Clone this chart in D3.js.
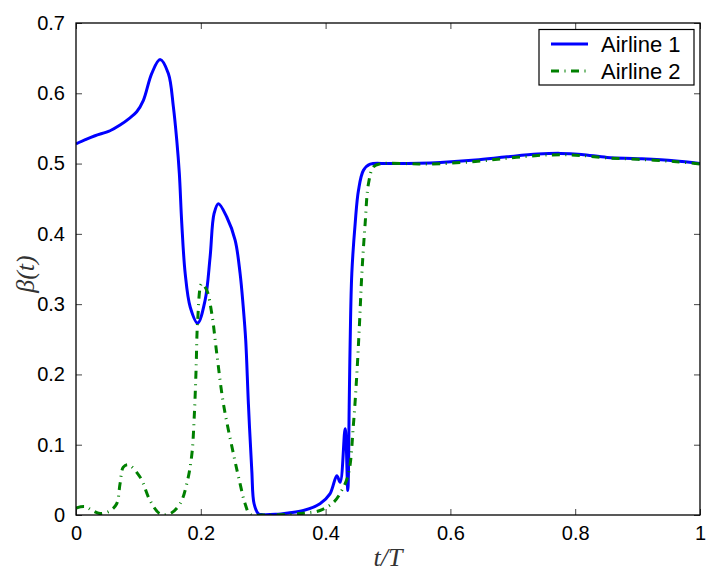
<!DOCTYPE html>
<html>
<head>
<meta charset="utf-8">
<script src="https://cdn.jsdelivr.net/npm/d3@7"></script>
<style>
  html, body { margin: 0; padding: 0; background: #fff; }
  svg { display: block; }
</style>
</head>
<body>
<svg id="chart" width="707" height="575"></svg>
<script>
// Normalised time t/T and beta(t) for each airline
const airline1T = [0, 0.015, 0.0305, 0.0545, 0.0706, 0.085, 0.0973, 0.108, 0.1213, 0.1347,
  0.148, 0.156, 0.1615, 0.1656, 0.1695, 0.175, 0.183, 0.195, 0.2069, 0.2149,
  0.2213, 0.2282, 0.2416, 0.255, 0.263, 0.268, 0.272, 0.2763, 0.2817, 0.2854,
  0.2924, 0.30, 0.32, 0.34, 0.3645, 0.391, 0.407, 0.418, 0.4233, 0.4313,
  0.4356, 0.4378, 0.4394, 0.442, 0.4474, 0.4527, 0.4608, 0.4715, 0.50, 0.55,
  0.5837, 0.64, 0.6907, 0.74, 0.776, 0.81, 0.851, 0.90, 0.958, 1.0];
const airline1Beta = [0.528, 0.534, 0.5396, 0.5467, 0.5548, 0.564, 0.5737, 0.590, 0.628, 0.648,
  0.628, 0.581, 0.533, 0.486, 0.415, 0.3435, 0.296, 0.273, 0.3055, 0.367,
  0.429, 0.443, 0.424, 0.391, 0.3435, 0.296, 0.2485, 0.158, 0.0634, 0.016,
  0.0017, 0.0005, 0.001, 0.003, 0.0064, 0.016, 0.030, 0.056, 0.0467, 0.1228,
  0.035, 0.1535, 0.2485, 0.3435, 0.415, 0.462, 0.4907, 0.4992, 0.500, 0.5005,
  0.5016, 0.505, 0.5096, 0.5135, 0.5145, 0.513, 0.5088, 0.507, 0.504, 0.500];

const airline2T = [0, 0.0144, 0.025, 0.0385, 0.0545, 0.0652, 0.0705, 0.0758, 0.0839, 0.1026,
  0.1187, 0.1347, 0.151, 0.1668, 0.1775, 0.1855, 0.1895, 0.1924, 0.195, 0.2015,
  0.2095, 0.2176, 0.2256, 0.2363, 0.2523, 0.263, 0.271, 0.279, 0.30, 0.33,
  0.3645, 0.391, 0.4127, 0.426, 0.4367, 0.4447, 0.4501, 0.4543, 0.4581, 0.4634,
  0.4688, 0.4768, 0.4875, 0.55, 0.5837, 0.64, 0.6907, 0.74, 0.776, 0.81,
  0.851, 0.90, 0.958, 1.0];
const airline2Beta = [0.010, 0.012, 0.007, 0.002, 0.006, 0.016, 0.044, 0.068, 0.0715, 0.054,
  0.0206, 0.0017, 0.002, 0.016, 0.0444, 0.085, 0.14, 0.206, 0.277, 0.329,
  0.320, 0.2866, 0.2296, 0.158, 0.087, 0.0444, 0.016, 0.001, 0.000, 0.0005,
  0.0026, 0.0064, 0.018, 0.035, 0.0587, 0.13, 0.201, 0.272, 0.3435, 0.415,
  0.472, 0.4955, 0.4995, 0.4995, 0.4998, 0.503, 0.5075, 0.5115, 0.5125, 0.5115,
  0.508, 0.506, 0.503, 0.4995];

const seriesNames = ["Airline 1", "Airline 2"];
const xTicks = [0, 0.2, 0.4, 0.6, 0.8, 1];
const yTicks = [0, 0.1, 0.2, 0.3, 0.4, 0.5, 0.6, 0.7];

const plot = { left: 76, right: 700, top: 23, bottom: 515 };

const svg = d3.select("#chart");
const x = d3.scaleLinear().domain([0, 1]).range([plot.left, plot.right]);
const y = d3.scaleLinear().domain([0, 0.7]).range([plot.bottom, plot.top]);

const tickFont = "'Liberation Sans', Arial, Helvetica, sans-serif";
const mathFont = "'Liberation Serif', 'Times New Roman', serif";

svg.append("defs").append("clipPath").attr("id", "plotClip")
  .append("rect")
  .attr("x", plot.left).attr("y", plot.top - 2)
  .attr("width", plot.right - plot.left).attr("height", plot.bottom - plot.top + 2);

// Axes: ticks point inward, mirrored on top and right
const tickLen = 6;
function styleAxis(g) {
  g.select(".domain").remove();
  g.selectAll(".tick line").attr("stroke", "#444").attr("stroke-width", 1);
  g.selectAll(".tick text").attr("font-family", tickFont).attr("font-size", 20).attr("fill", "#000");
}
svg.append("g").attr("transform", `translate(0,${plot.bottom})`)
  .call(d3.axisBottom(x).tickValues(xTicks).tickFormat(d3.format("~g")).tickSizeInner(-tickLen).tickPadding(11))
  .call(styleAxis);
svg.append("g").attr("transform", `translate(0,${plot.top})`)
  .call(d3.axisTop(x).tickValues(xTicks).tickFormat("").tickSizeInner(-tickLen))
  .call(styleAxis);
svg.append("g").attr("transform", `translate(${plot.left},0)`)
  .call(d3.axisLeft(y).tickValues(yTicks).tickFormat(d3.format("~g")).tickSizeInner(-tickLen).tickPadding(11))
  .call(styleAxis);
svg.append("g").attr("transform", `translate(${plot.right},0)`)
  .call(d3.axisRight(y).tickValues(yTicks).tickFormat("").tickSizeInner(-tickLen))
  .call(styleAxis);

// Curves
const line = d3.line()
  .x(d => x(d[0]))
  .y(d => y(d[1]))
  .curve(d3.curveCatmullRom.alpha(0.5));

const series = [
  { name: seriesNames[0], pts: d3.zip(airline1T, airline1Beta), color: "#0000ff", dash: null },
  { name: seriesNames[1], pts: d3.zip(airline2T, airline2Beta), color: "#008000", dash: "8,5.5,1,5.5" }
];

const lines = svg.append("g").attr("clip-path", "url(#plotClip)");
series.forEach(s => {
  lines.append("path")
    .datum(s.pts)
    .attr("d", line)
    .attr("fill", "none")
    .attr("stroke", s.color)
    .attr("stroke-width", 3)
    .attr("stroke-linejoin", "round")
    .attr("stroke-dasharray", s.dash);
});

// Frame
svg.append("rect")
  .attr("x", plot.left).attr("y", plot.top)
  .attr("width", plot.right - plot.left).attr("height", plot.bottom - plot.top)
  .attr("fill", "none").attr("stroke", "#000").attr("stroke-width", 1.3);

// Axis titles
svg.append("text")
  .attr("x", (plot.left + plot.right) / 2).attr("y", 566)
  .attr("text-anchor", "middle")
  .attr("font-family", mathFont).attr("font-style", "italic")
  .attr("font-size", 26).attr("fill", "#333")
  .text("t/T");

svg.append("text")
  .attr("transform", "translate(34,274) rotate(-90)")
  .attr("text-anchor", "middle")
  .attr("font-family", mathFont).attr("font-style", "italic")
  .attr("font-size", 26).attr("fill", "#333")
  .text("β(t)");

// Legend
const lg = svg.append("g");
lg.append("rect")
  .attr("x", 539).attr("y", 29.5).attr("width", 155).attr("height", 55.5)
  .attr("fill", "#fff").attr("stroke", "#000").attr("stroke-width", 1.2);
series.forEach((s, i) => {
  const ly = 44 + i * 27;
  lg.append("line")
    .attr("x1", 551).attr("x2", 588).attr("y1", ly).attr("y2", ly)
    .attr("stroke", s.color).attr("stroke-width", 3)
    .attr("stroke-dasharray", s.dash);
  lg.append("text")
    .attr("x", 601).attr("y", ly + 7.5)
    .attr("font-family", tickFont).attr("font-size", 22).attr("fill", "#000")
    .text(s.name);
});
</script>
</body>
</html>
